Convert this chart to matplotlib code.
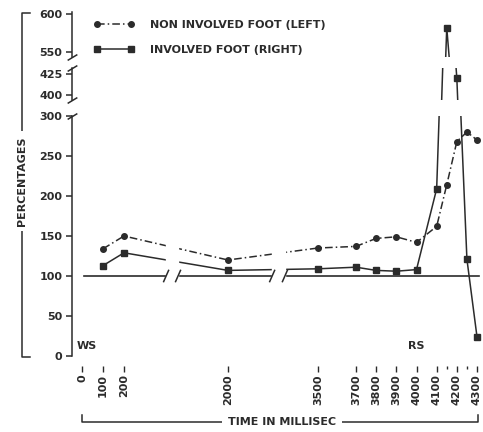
import numpy as np
import matplotlib
matplotlib.use("Agg")
import matplotlib.pyplot as plt
from matplotlib.lines import Line2D

time_ms = [100, 200, 2000, 3500, 3700, 3800, 3900, 4000, 4100, 4150, 4200, 4250, 4300]
non_involved_left = [134, 150, 120, 135, 137, 147, 149, 142, 162, 214, 268, 280, 270]
involved_right = [113, 129, 107, 109, 111, 107, 106, 108, 209, 582, 420, 121, 24]

tick_times = [0, 100, 200, 2000, 3500, 3700, 3800, 3900, 4000, 4100, 4200, 4300]
minor_times = [4150, 4250]
baseline = 100

INK = "#2b2b2b"
W, H = 483, 432

plt.rcParams.update({
    "font.family": ["DejaVu Sans"],
    "font.weight": "bold",
    "font.size": 8,
    "text.color": INK,
    "axes.edgecolor": INK,
    "xtick.color": INK,
    "ytick.color": INK,
    "axes.linewidth": 1.1,
})

# gebrochene x-Achse: Zeit -> Position
knot_t = [-50, 0, 200, 2000, 3500, 3700, 4300, 4325]
knot_p = [72, 82, 124, 228, 318, 356, 477, 483]
fwd = lambda t: np.interp(t, knot_t, knot_p)
inv = lambda p: np.interp(p, knot_p, knot_t)

fig = plt.figure(figsize=(W / 100, H / 100), dpi=100)


def px_axes(y_top, y_bot):
    return fig.add_axes([72 / W, 1 - y_bot / H, (483 - 72) / W, (y_bot - y_top) / H])


ax_low = px_axes(116, 356)
ax_mid = px_axes(68, 100)
ax_top = px_axes(12, 57)

lims = {ax_low: (0, 300), ax_mid: (394, 432), ax_top: (543.4, 602.6)}
yticks = {ax_low: range(0, 301, 50), ax_mid: [400, 425], ax_top: [550, 600]}

for ax in (ax_low, ax_mid, ax_top):
    ax.set_xscale("function", functions=(fwd, inv))
    ax.set_xlim(-50, 4325)
    ax.set_ylim(*lims[ax])
    ax.set_yticks(list(yticks[ax]))
    ax.patch.set_visible(False)
    for s in ("top", "right"):
        ax.spines[s].set_visible(False)
    ax.tick_params(axis="y", direction="out", length=4, width=1.1, pad=3, labelsize=8)
    l1, = ax.plot(time_ms, non_involved_left, color=INK, lw=1.1,
                  linestyle=(0, (5, 2, 1, 2)), marker="o", ms=4,
                  label="NON INVOLVED FOOT (LEFT)")
    l2, = ax.plot(time_ms, involved_right, color=INK, lw=1.1, linestyle="-",
                  marker="s", ms=4, label="INVOLVED FOOT (RIGHT)")
    if ax is not ax_low:
        ax.spines["bottom"].set_visible(False)
        ax.tick_params(axis="x", which="both", bottom=False, labelbottom=False)
    else:
        handles = [l1, l2]

# Bruchzeichen an der y-Achse
brk = dict(marker=[(-1, -0.6), (1, 0.6)], markersize=7, linestyle="none",
           color=INK, mew=1.1, clip_on=False)
ax_low.plot([0], [1], transform=ax_low.transAxes, **brk)
ax_mid.plot([0, 0], [0, 1], transform=ax_mid.transAxes, **brk)
ax_top.plot([0], [0], transform=ax_top.transAxes, **brk)

# untere Achse: x-Ticks
ax_low.spines["bottom"].set_position(("outward", 7))
ax_low.spines["bottom"].set_visible(False)
ax_low.set_xticks(tick_times)
ax_low.set_xticks(minor_times, minor=True)
ax_low.set_xticklabels([str(t) for t in tick_times], rotation=90)
ax_low.tick_params(axis="x", which="major", direction="out", length=4, width=1, pad=2, labelsize=8)
ax_low.tick_params(axis="x", which="minor", direction="out", length=2, width=1)

# 100%-Linie mit Unterbrechungen
ax_low.axhline(baseline, xmin=0.03, xmax=0.99, color=INK, lw=1.2, zorder=1)
tr = ax_low.get_yaxis_transform()
for x0, x1 in [(0.229, 0.258), (0.487, 0.518)]:
    ax_low.axvspan(inv(72 + x0 * 411), inv(72 + x1 * 411), color="white", zorder=5)
    for xx in (x0, x1):
        ax_low.plot([xx - 0.006, xx + 0.006], [baseline - 7, baseline + 7], color=INK,
                    lw=1.1, transform=tr, zorder=6)

ax_low.text(0.012, 12, "WS", transform=tr, va="center", fontsize=8)
ax_low.text(4000, 12, "RS", ha="center", va="center", fontsize=8)

# Legende
fig.legend(handles, [h.get_label() for h in handles], loc="upper left",
           bbox_to_anchor=(94 / W, 1 - 19.5 / H), frameon=False, numpoints=2,
           handlelength=3.6, handletextpad=1.4, labelspacing=1.42, borderpad=0,
           borderaxespad=0, fontsize=8)

# Achsenbeschriftungen mit Klammern
fig.add_artist(Line2D([30 / W, 22 / W, 22 / W, 30 / W],
                      [1 - 13 / H, 1 - 13 / H, 1 - 357 / H, 1 - 357 / H],
                      color=INK, lw=1.1))
fig.text(22 / W, 1 - 181 / H, "PERCENTAGES", rotation=90, ha="center", va="center",
         fontsize=8, bbox=dict(facecolor="white", edgecolor="none", pad=4))

fig.add_artist(Line2D([82 / W, 82 / W, 478 / W, 478 / W],
                      [1 - 415 / H, 1 - 422 / H, 1 - 422 / H, 1 - 415 / H],
                      color=INK, lw=1.1))
fig.text(282 / W, 1 - 422 / H, "TIME IN MILLISEC", ha="center", va="center",
         fontsize=8, bbox=dict(facecolor="white", edgecolor="none", pad=4))

fig.savefig("out.png", dpi=100)
